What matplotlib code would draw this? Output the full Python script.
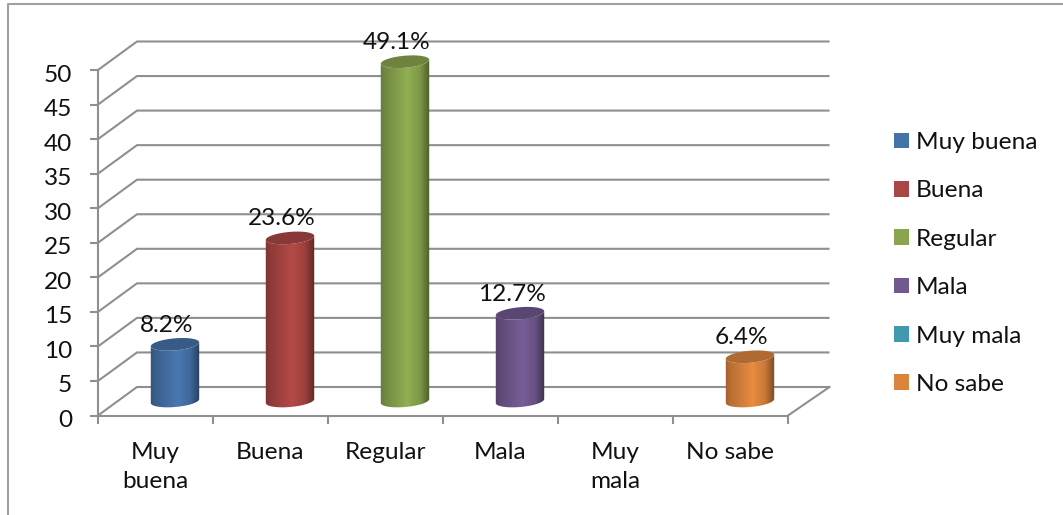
import numpy as np
import matplotlib
matplotlib.use("Agg")
import matplotlib.pyplot as plt
from matplotlib.lines import Line2D
from matplotlib.patches import Patch, Polygon
from matplotlib.colors import to_rgb
from matplotlib.transforms import ScaledTranslation

categories = ["Muy\nbuena", "Buena", "Regular", "Mala", "Muy\nmala", "No sabe"]
legend_labels = ["Muy buena", "Buena", "Regular", "Mala", "Muy mala", "No sabe"]
values = [8.2, 23.6, 49.1, 12.7, 0, 6.4]
value_labels = ["8.2%", "23.6%", "49.1%", "12.7%", "", "6.4%"]
colors = ["#4572A7", "#AA4643", "#89A54E", "#71588F", "#4198AF", "#DB843D"]
yticks = list(range(0, 55, 5))

W, H = 1063, 515
GRAY = "#8f8f8f"
TXT = "#111111"
plt.rcParams["font.family"] = ["Lato", "DejaVu Sans"]
FS = 17.6

fig = plt.figure(figsize=(W / 100, H / 100), dpi=100)
L, R, T, B = 98, 788, 70, 415.5
ax = fig.add_axes([L / W, 1 - B / H, (R - L) / W, (B - T) / H])
ax.patch.set_alpha(0)

px_x = (R - L) / 6
px_y = (B - T) / 50
dx_l, dx_r, dy = 39 / px_x, 41.5 / px_x, 28.5 / px_y

# wall and floor lines
for v in yticks:
    ax.plot([0, dx_l, 6 + dx_r], [v, v + dy, v + dy], color=GRAY, lw=1.5,
            clip_on=False, zorder=1, solid_capstyle="butt", solid_joinstyle="miter")
ax.plot([6, 6 + dx_r], [0, dy], color=GRAY, lw=1.5, clip_on=False, zorder=1)


def ellipse(cx, cy, t):
    a, b, tilt = 24.3, 6.0, np.radians(5)
    ex = a * np.cos(t) * np.cos(tilt) - b * np.sin(t) * np.sin(tilt)
    ey = a * np.cos(t) * np.sin(tilt) + b * np.sin(t) * np.cos(tilt)
    return cx + ex / px_x, cy + ey / px_y


grad_pos = [0.0, 0.12, 0.55, 0.8, 1.0]
grad_fac = [0.74, 0.84, 1.06, 0.92, 0.56]
for i, (v, c) in enumerate(zip(values, colors)):
    if v <= 0:
        continue
    cx = i + 0.5 + 19.5 / px_x
    cy0 = 14.5 / px_y
    cy1 = cy0 + v
    tt = np.linspace(0, 2 * np.pi, 121)
    lower = np.linspace(np.pi, 2 * np.pi, 60)
    upper = np.linspace(2 * np.pi, np.pi, 60)
    bx, by = ellipse(cx, cy0, lower)
    ux, uy = ellipse(cx, cy1, upper)
    body = Polygon(np.column_stack([np.r_[bx, ux], np.r_[by, uy]]), closed=True,
                   transform=ax.transData, fc="none", ec="none")
    ax.add_patch(body)
    body.set_clip_on(False)
    s = np.linspace(0, 1, 200)
    base = np.array(to_rgb(c))
    fac = np.interp(s, grad_pos, grad_fac)
    img = np.clip(base[None, None, :] * fac[None, :, None], 0, 1)
    hw = 25 / px_x
    im = ax.imshow(img, extent=[cx - hw, cx + hw, cy0 - 8 / px_y, cy1 + 8 / px_y],
                   aspect="auto", zorder=3, interpolation="bilinear")
    im.set_clip_path(body)
    im.set_clip_box(fig.bbox)
    tx, ty = ellipse(cx, cy1, tt)
    ax.add_patch(Polygon(np.column_stack([tx, ty]), closed=True, fc=base * 0.8,
                         ec="none", zorder=4, clip_on=False))
    ax.annotate(value_labels[i], xy=(cx, cy1), xytext=(-8.5 * 0.72, 19 * 0.72),
                textcoords="offset points", ha="center", va="center",
                fontsize=FS, color=TXT, zorder=6, annotation_clip=False)

ax.set_xlim(0, 6)
ax.set_ylim(0, 50)
ax.set_xticks(np.arange(0, 7))
ax.set_xticklabels([])
ax.set_xticks(np.arange(6) + 0.5, categories, minor=True, fontsize=FS, color=TXT,
              linespacing=1.5)
ax.tick_params(axis="x", which="major", length=5.5, width=1.5, color=GRAY)
ax.tick_params(axis="x", which="minor", length=0, pad=19)
ax.set_yticks(yticks)
ax.set_yticklabels([str(v) for v in yticks], fontsize=FS, color=TXT)
ax.tick_params(axis="y", length=6, width=1.5, color=GRAY, pad=12.5)
off = ScaledTranslation(0, -3 / 100, fig.dpi_scale_trans)
for lab in ax.get_yticklabels():
    lab.set_transform(lab.get_transform() + off)
for s in ("top", "right"):
    ax.spines[s].set_visible(False)
for s in ("left", "bottom"):
    ax.spines[s].set_color(GRAY)
    ax.spines[s].set_linewidth(1.5)

handles = [Patch(fc=c, ec="none", label=l) for c, l in zip(colors, legend_labels)]
fig.legend(handles=handles, loc="upper left",
           bbox_to_anchor=(894 / W, 1 - 132 / H), frameon=False, fontsize=FS,
           handlelength=0.61, handleheight=0.61, handletextpad=0.3,
           labelspacing=1.12, borderpad=0, borderaxespad=0, labelcolor=TXT)

# chart frame visible on the top and left edges
fig.add_artist(Line2D([7.5 / W, 7.5 / W, 1], [0, 1 - 3.5 / H, 1 - 3.5 / H],
                      color="#a0a0a0", lw=1.5, transform=fig.transFigure))

fig.savefig("out.png", dpi=100)
